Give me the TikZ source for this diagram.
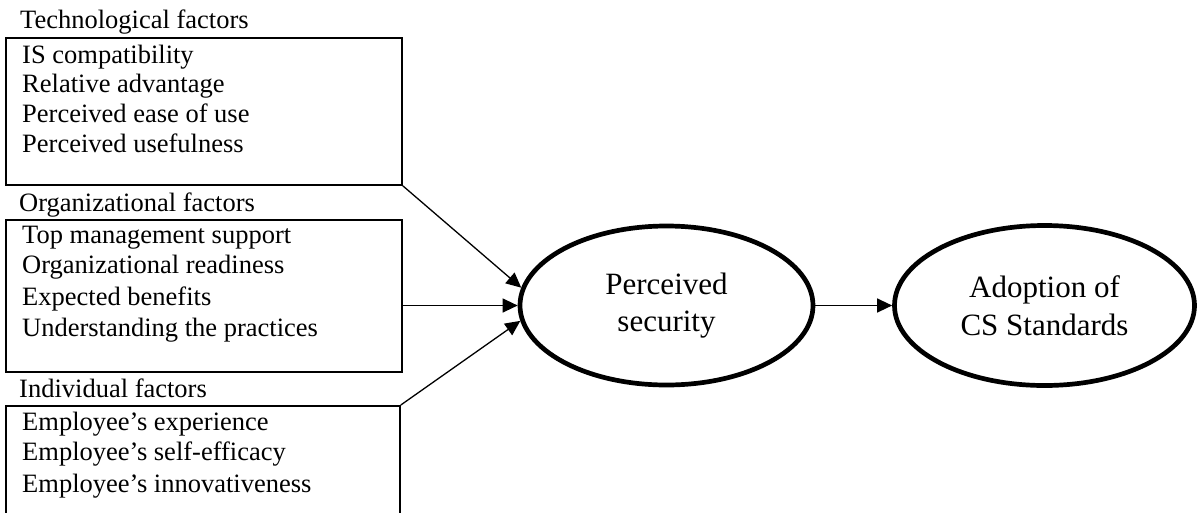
\documentclass[tikz,border=0pt]{standalone}
\usepackage{fontspec}
\setmainfont{Liberation Serif}
\usetikzlibrary{shapes.geometric,arrows.meta}
\begin{document}
\begin{tikzpicture}[x=1pt,y=-1pt,
  box/.style={draw,line width=1.8pt,rectangle,inner sep=0pt,anchor=north west},
  lbl/.style={anchor=base west,inner sep=0pt,font=\fontsize{26.5}{30}\selectfont},
  oval/.style={draw,ellipse,line width=4.7pt,inner sep=0pt,align=center,font=\fontsize{31}{37.5}\selectfont},
  conn/.style={line width=1.3pt,-{Triangle[length=15pt,width=14pt]}}]
\useasboundingbox (0,0) rectangle (1199,512);
% boxes
\node[box,minimum width=396pt,minimum height=147pt] (tech) at (5,37) {};
\node[box,minimum width=396pt,minimum height=152pt] (org) at (5,219) {};
\node[box,minimum width=394pt,minimum height=150pt] (ind) at (5,405) {};
% titles
\node[lbl] (t1) at (20,28) {Technological factors};
\node[lbl] (t2) at (19,211) {Organizational factors};
\node[lbl] (t3) at (19,397) {Individual factors};
% box 1 items
\node[lbl] (a1) at (22,63) {IS compatibility};
\node[lbl] (a2) at (22,92.5) {Relative advantage};
\node[lbl] (a3) at (22,122) {Perceived ease of use};
\node[lbl] (a4) at (22,152) {Perceived usefulness};
% box 2 items
\node[lbl] (b1) at (22,243) {Top management support};
\node[lbl] (b2) at (22,273.5) {Organizational readiness};
\node[lbl] (b3) at (22,305) {Expected benefits};
\node[lbl] (b4) at (22,336) {Understanding the practices};
% box 3 items
\node[lbl] (c1) at (22,430) {Employee’s experience};
\node[lbl] (c2) at (22,460) {Employee’s self-efficacy};
\node[lbl] (c3) at (22,492) {Employee’s innovativeness};
% ellipses
\node[oval,minimum width=293pt,minimum height=159pt] (ps) at (666.5,305.5) {Perceived\\security};
\node[oval,minimum width=300pt,minimum height=160pt] (cs) at (1044.5,305.5) {Adoption of\\CS Standards};
% connectors
\draw[conn] (tech.south east) -- (ps.173.8);
\draw[conn] (org.east |- ps.west) -- (ps.west);
\draw[conn] (ind.north east) -- (ps.186);
\draw[conn] (ps.east) -- (cs.west);
\end{tikzpicture}
\end{document}
